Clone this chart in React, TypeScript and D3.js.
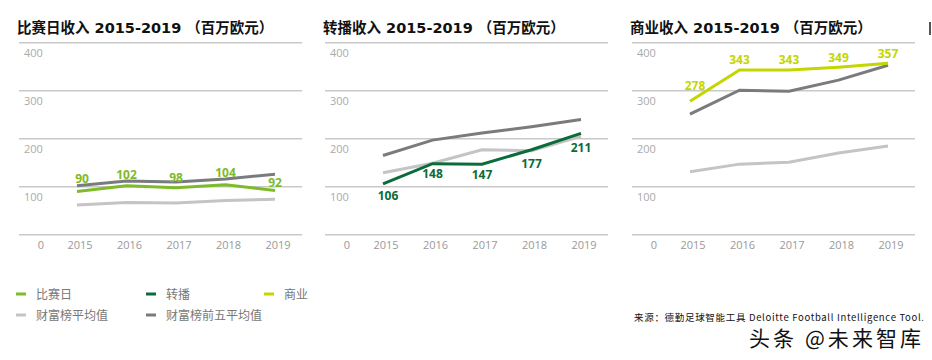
import React from 'react';
import * as d3 from 'd3';

const years = ['2015', '2016', '2017', '2018', '2019'];
const yTicks = [100, 200, 300, 400];

const matchday = [90, 102, 98, 104, 92];
const matchdayTop5 = [102, 112, 110, 116, 126];
const matchdayAvg = [62, 67, 66, 71, 74];

const broadcast = [106, 148, 147, 177, 211];
const broadcastTop5 = [165, 197, 212, 225, 240];
const broadcastAvg = [129, 149, 177, 175, 205];

const commercial = [278, 343, 343, 349, 357];
const commercialTop5 = [251, 301, 299, 322, 353];
const commercialAvg = [131, 147, 151, 170, 185];

const titles = ['比赛日收入', '转播收入', '商业收入'];
const legendNames = ['比赛日', '转播', '商业', '财富榜平均值', '财富榜前五平均值'];

const C_MATCH = '#7dbb2a';
const C_BROAD = '#0b6b3a';
const C_COMM = '#c4d600';
const C_AVG = '#c4c4c4';
const C_TOP5 = '#7a7b7e';

const CJK = '"Noto Sans CJK SC", "Noto Sans", sans-serif';
const LAT = '"DejaVu Sans", "Noto Sans CJK SC", sans-serif';

const panels = [
  { left: 19, main: matchday, top5: matchdayTop5, avg: matchdayAvg, color: C_MATCH, labelDy: [-9, -7, -6, -8, -4] },
  { left: 325, main: broadcast, top5: broadcastTop5, avg: broadcastAvg, color: C_BROAD, labelDy: [16, 14, 15, 18, 19] },
  { left: 632, main: commercial, top5: commercialTop5, avg: commercialAvg, color: C_COMM, labelDy: [-11, -6, -6, -5, -5] },
];

const y = d3.scaleLinear().domain([0, 400]).range([234.7, 42.7]);

const Panel = ({ p, title }: any) => {
  const x = d3.scalePoint<string>().domain(years).range([p.left + 58, p.left + 256]);
  const line = d3
    .line<number>()
    .x((_, i) => x(years[i]) as number)
    .y((d) => y(d))
    .curve(d3.curveLinear);
  return (
    <g>
      <text x={p.left - 2} y={33} fontSize={14.5} fontWeight="bold" fill="#111" fontFamily={LAT}>
        <tspan fontFamily={CJK}>{title}</tspan>
        <tspan> 2015-2019 </tspan>
        <tspan fontFamily={CJK} fontWeight={600}>（百万欧元）</tspan>
      </text>
      {[0, ...yTicks].map((t) => (
        <line key={t} x1={p.left} x2={p.left + 283} y1={y(t)} y2={y(t)} stroke="#c9c9c9" strokeWidth={1.5} />
      ))}
      {yTicks.map((t) => (
        <text key={t} x={p.left + 5} y={y(t) + 14} fontSize={11} fill="#aaa" fontFamily='"Open Sans", sans-serif'>
          {t}
        </text>
      ))}
      <text x={p.left + 22} y={249} fontSize={11} fill="#999" textAnchor="middle" fontFamily='"Open Sans", sans-serif'>
        0
      </text>
      {years.map((yr) => (
        <text key={yr} x={(x(yr) as number) + 3} y={249} fontSize={11} fill="#999" textAnchor="middle" fontFamily='"Open Sans", sans-serif'>
          {yr}
        </text>
      ))}
      <path d={line(p.avg) as string} fill="none" stroke={C_AVG} strokeWidth={3} />
      <path d={line(p.top5) as string} fill="none" stroke={C_TOP5} strokeWidth={3} />
      <path d={line(p.main) as string} fill="none" stroke={p.color} strokeWidth={3} />
      {p.main.map((v: number, i: number) => (
        <text
          key={i}
          x={(x(years[i]) as number) + (i === 0 ? 5 : 0)}
          y={y(v) + p.labelDy[i]}
          fontSize={12}
          fontWeight="bold"
          fill={p.color}
          textAnchor="middle"
          fontFamily='"Open Sans", sans-serif'
        >
          {v}
        </text>
      ))}
    </g>
  );
};

const legendPos = [
  { x: 16, y: 294 },
  { x: 146, y: 294 },
  { x: 264, y: 294 },
  { x: 16, y: 315 },
  { x: 146, y: 315 },
];
const legendColors = [C_MATCH, C_BROAD, C_COMM, C_AVG, C_TOP5];

export default function App() {
  return (
    <svg
      width={932}
      height={360}
      style={{ position: 'absolute', left: 0, top: 0, background: '#fff' }}
    >
      <rect width={932} height={360} fill="#fff" />
      {panels.map((p, i) => (
        <Panel key={i} p={p} title={titles[i]} />
      ))}
      <rect x={929} y={22} width={2} height={13} fill="#555" />
      {legendNames.map((n, i) => (
        <g key={n}>
          <line x1={legendPos[i].x} x2={legendPos[i].x + 10} y1={legendPos[i].y} y2={legendPos[i].y} stroke={legendColors[i]} strokeWidth={3} />
          <text x={legendPos[i].x + 20} y={legendPos[i].y + 4.5} fontSize={12} fill="#777" fontFamily={CJK}>
            {n}
          </text>
        </g>
      ))}
      <text x={634} y={321} fontSize={9.5} fill="#111" fontFamily={CJK} textLength={290}>
        来源：德勤足球智能工具 Deloitte Football Intelligence Tool.
      </text>
      <text
        x={749}
        y={346}
        fontSize={21}
        fill="#111"
        fontFamily={CJK}
        fontWeight={400}
        textLength={172}
      >
        头条 @未来智库
      </text>
    </svg>
  );
}
